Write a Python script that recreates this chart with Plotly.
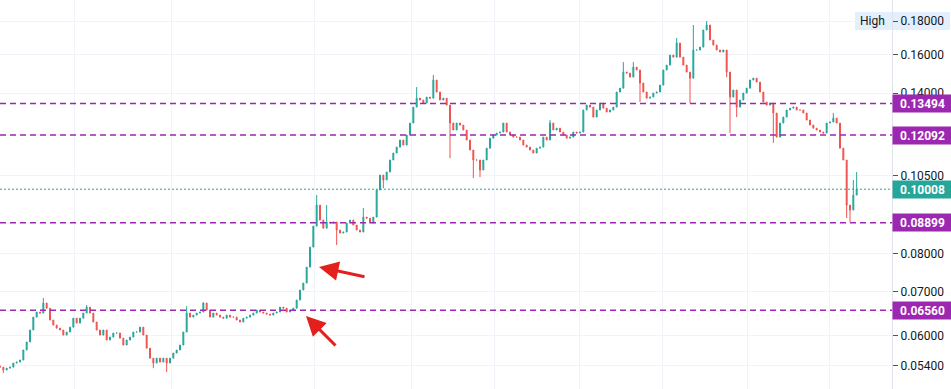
import math
import plotly.graph_objects as go

# ---- data ----
closes = [
    0.05378, 0.05324, 0.05359, 0.05378, 0.05455, 0.05474, 0.05513, 0.05709, 0.05871, 0.06122,
    0.06404, 0.06518, 0.06495, 0.06726, 0.06607, 0.06339, 0.06228, 0.06162, 0.06122, 0.06015,
    0.06079, 0.06184, 0.06380, 0.06272, 0.06380, 0.06495, 0.06631, 0.06495, 0.06295, 0.06122,
    0.06015, 0.06122, 0.05912, 0.05973, 0.06058, 0.06058, 0.05951, 0.05809, 0.05912, 0.05973,
    0.06079, 0.06079, 0.06184, 0.06015, 0.05747, 0.05549, 0.05455, 0.05549, 0.05474, 0.05549,
    0.05455, 0.05549, 0.05649, 0.05709, 0.05809, 0.06079, 0.06495, 0.06404, 0.06449, 0.06495,
    0.06518, 0.06726, 0.06564, 0.06404, 0.06495, 0.06449, 0.06404, 0.06380, 0.06449, 0.06404,
    0.06404, 0.06339, 0.06295, 0.06380, 0.06404, 0.06449, 0.06495, 0.06564, 0.06518, 0.06495,
    0.06472, 0.06449, 0.06495, 0.06518, 0.06631, 0.06607, 0.06518, 0.06564, 0.06607, 0.06797,
    0.07039, 0.07212, 0.07625, 0.08177, 0.08798, 0.09468, 0.08987, 0.08735, 0.08924, 0.08893,
    0.08924, 0.08679, 0.08588, 0.08618, 0.08893, 0.08987, 0.08830, 0.08679, 0.08618, 0.09079,
    0.09045, 0.08893, 0.09079, 0.09979, 0.10514, 0.10334, 0.10626, 0.11081, 0.11354, 0.11592,
    0.11882, 0.11674, 0.12089, 0.12607, 0.13329, 0.13752, 0.13662, 0.13519, 0.13803, 0.13752,
    0.14650, 0.14049, 0.13662, 0.13752, 0.13423, 0.12607, 0.12304, 0.12607, 0.12518, 0.12304,
    0.11882, 0.11474, 0.11081, 0.11081, 0.10701, 0.11081, 0.11549, 0.11960, 0.12089, 0.12175,
    0.12218, 0.12607, 0.12218, 0.12089, 0.12004, 0.12004, 0.11882, 0.11674, 0.11592, 0.11474,
    0.11354, 0.11549, 0.11592, 0.12004, 0.11882, 0.12607, 0.12304, 0.12384, 0.12218, 0.12089,
    0.11960, 0.12004, 0.12218, 0.12175, 0.12218, 0.13194, 0.13423, 0.13329, 0.12872, 0.13194,
    0.13519, 0.13280, 0.13102, 0.13194, 0.13329, 0.14049, 0.14240, 0.15064, 0.15011, 0.14800,
    0.15326, 0.15170, 0.14496, 0.14049, 0.13752, 0.13803, 0.13999, 0.14049, 0.14394, 0.15170,
    0.15434, 0.15982, 0.15868, 0.16668, 0.15868, 0.15434, 0.15064, 0.14745, 0.16267, 0.16267,
    0.16434, 0.17443, 0.17750, 0.16845, 0.16550, 0.16267, 0.16153, 0.16267, 0.15064, 0.13803,
    0.14148, 0.13329, 0.13662, 0.13999, 0.14240, 0.14650, 0.14745, 0.14548, 0.14049, 0.13567,
    0.13423, 0.13519, 0.13056, 0.12004, 0.12607, 0.12872, 0.13194, 0.13280, 0.13329, 0.13194,
    0.13194, 0.13056, 0.12741, 0.12518, 0.12384, 0.12304, 0.12218, 0.12175, 0.12607, 0.12652,
    0.12825, 0.12607, 0.11549, 0.11081, 0.09468, 0.09306, 0.09804, 0.10008,
]
first_open = 0.05400

spike_highs = {
    13: 0.06845, 26: 0.06680, 56: 0.06654, 61: 0.06749, 95: 0.09806, 98: 0.09468,
    109: 0.09371, 125: 0.14293, 130: 0.14908, 165: 0.12741, 187: 0.15599, 190: 0.15599,
    203: 0.16963, 208: 0.17750, 212: 0.18000, 250: 0.13056, 256: 0.10334, 257: 0.10626,
}
spike_lows = {
    1: 0.05268, 46: 0.05359, 50: 0.05287, 101: 0.08236, 115: 0.10045, 135: 0.11153,
    142: 0.10401, 144: 0.10440, 192: 0.13567, 207: 0.13519, 218: 0.14800, 219: 0.12175,
    221: 0.12872, 232: 0.11758, 254: 0.09050, 255: 0.08920,
}

y_tick_values = [0.18, 0.16, 0.14, 0.105, 0.08, 0.07, 0.06, 0.054]
x_grid_positions = [22.2, 51.3, 94.2, 123.3, 148.2, 173.7, 198.6, 224.1, 248.7]
level_values = [0.13494, 0.12092, 0.08899, 0.06560]
current_price = 0.10008
session_high = 0.18

# ---- build OHLC ----
idx = list(range(len(closes)))
opens = [first_open] + closes[:-1]
highs = [max(o, c) for o, c in zip(opens, closes)]
lows = [min(o, c) for o, c in zip(opens, closes)]
for k, v in spike_highs.items():
    highs[k] = max(highs[k], v)
for k, v in spike_lows.items():
    lows[k] = min(lows[k], v)

UP = "#26a69a"
DOWN = "#ef5350"
PURPLE = "#9c27b0"
GRID = "#f0f3fa"
FONT = "Roboto"

fig = go.Figure(go.Candlestick(
    x=idx, open=opens, high=highs, low=lows, close=closes,
    increasing=dict(line=dict(color=UP, width=1), fillcolor=UP),
    decreasing=dict(line=dict(color=DOWN, width=1), fillcolor=DOWN),
    showlegend=False, hoverinfo="skip",
))

shapes = []
for v in level_values:
    shapes.append(dict(type="line", xref="paper", x0=0, x1=1, yref="y", y0=v, y1=v,
                       line=dict(color=PURPLE, width=1.5, dash="6px,4px")))
shapes.append(dict(type="line", xref="paper", x0=0, x1=1, yref="y", y0=current_price, y1=current_price,
                   line=dict(color=UP, width=1, dash="2px,2px")))
# light box behind "High" label
shapes.append(dict(type="rect", xref="paper", yref="paper", x0=855 / 892, x1=950 / 892,
                   y0=1 - 30 / 389, y1=1 - 12 / 389, fillcolor="#e3effd",
                   line=dict(width=0), layer="below"))

annotations = []
for v in level_values:
    annotations.append(dict(xref="paper", x=1.0, xanchor="left", yref="y", y=math.log10(v),
                            yanchor="middle", text=f"<b>{v:.5f}</b>", showarrow=False,
                            bgcolor=PURPLE, font=dict(family=FONT, size=12, color="white"),
                            width=57, height=15, borderpad=1, align="center"))
annotations.append(dict(xref="paper", x=1.0, xanchor="left", yref="y", y=math.log10(current_price),
                        yanchor="middle", text=f"<b>{current_price:.5f}</b>", showarrow=False,
                        bgcolor=UP, font=dict(family=FONT, size=12, color="white"),
                        width=57, height=15, borderpad=1, align="center"))
annotations.append(dict(xref="paper", x=872 / 892, xanchor="center", yref="y",
                        y=math.log10(session_high), yanchor="middle", text="High", showarrow=False,
                        font=dict(family=FONT, size=12, color="#131722")))
# red arrows
annotations.append(dict(xref="paper", yref="paper", x=319 / 892, y=1 - 267 / 389, ax=47, ay=10,
                        text="", showarrow=True, arrowhead=2, arrowsize=1.3, arrowwidth=3,
                        arrowcolor="#e3201b", standoff=0))
annotations.append(dict(xref="paper", yref="paper", x=306 / 892, y=1 - 316 / 389, ax=31, ay=31,
                        text="", showarrow=True, arrowhead=2, arrowsize=1.3, arrowwidth=3,
                        arrowcolor="#e3201b", standoff=0))

fig.update_layout(
    width=951, height=389,
    margin=dict(l=0, r=59, t=0, b=0),
    paper_bgcolor="white", plot_bgcolor="white",
    boxgap=0.6,
    shapes=shapes, annotations=annotations,
    xaxis=dict(range=[0, 267.6], tickvals=x_grid_positions, showticklabels=False,
               showgrid=True, gridcolor=GRID, zeroline=False, ticks="",
               rangeslider=dict(visible=False), showline=False),
    yaxis=dict(type="log", side="right", range=[-1.30251, -0.71284],
               tickvals=y_tick_values, ticktext=[f"{v:.5f}" for v in y_tick_values],
               ticks="outside", ticklen=5, tickcolor="#50535e",
               showgrid=True, gridcolor=GRID, zeroline=False,
               showline=True, linecolor="#e0e3eb", linewidth=1,
               tickfont=dict(family=FONT, size=12, color="#131722"), automargin=False),
)

fig.write_html("out.html", config={"displayModeBar": False},
               post_script="document.body.style.margin='0';document.body.style.overflow='hidden';")
